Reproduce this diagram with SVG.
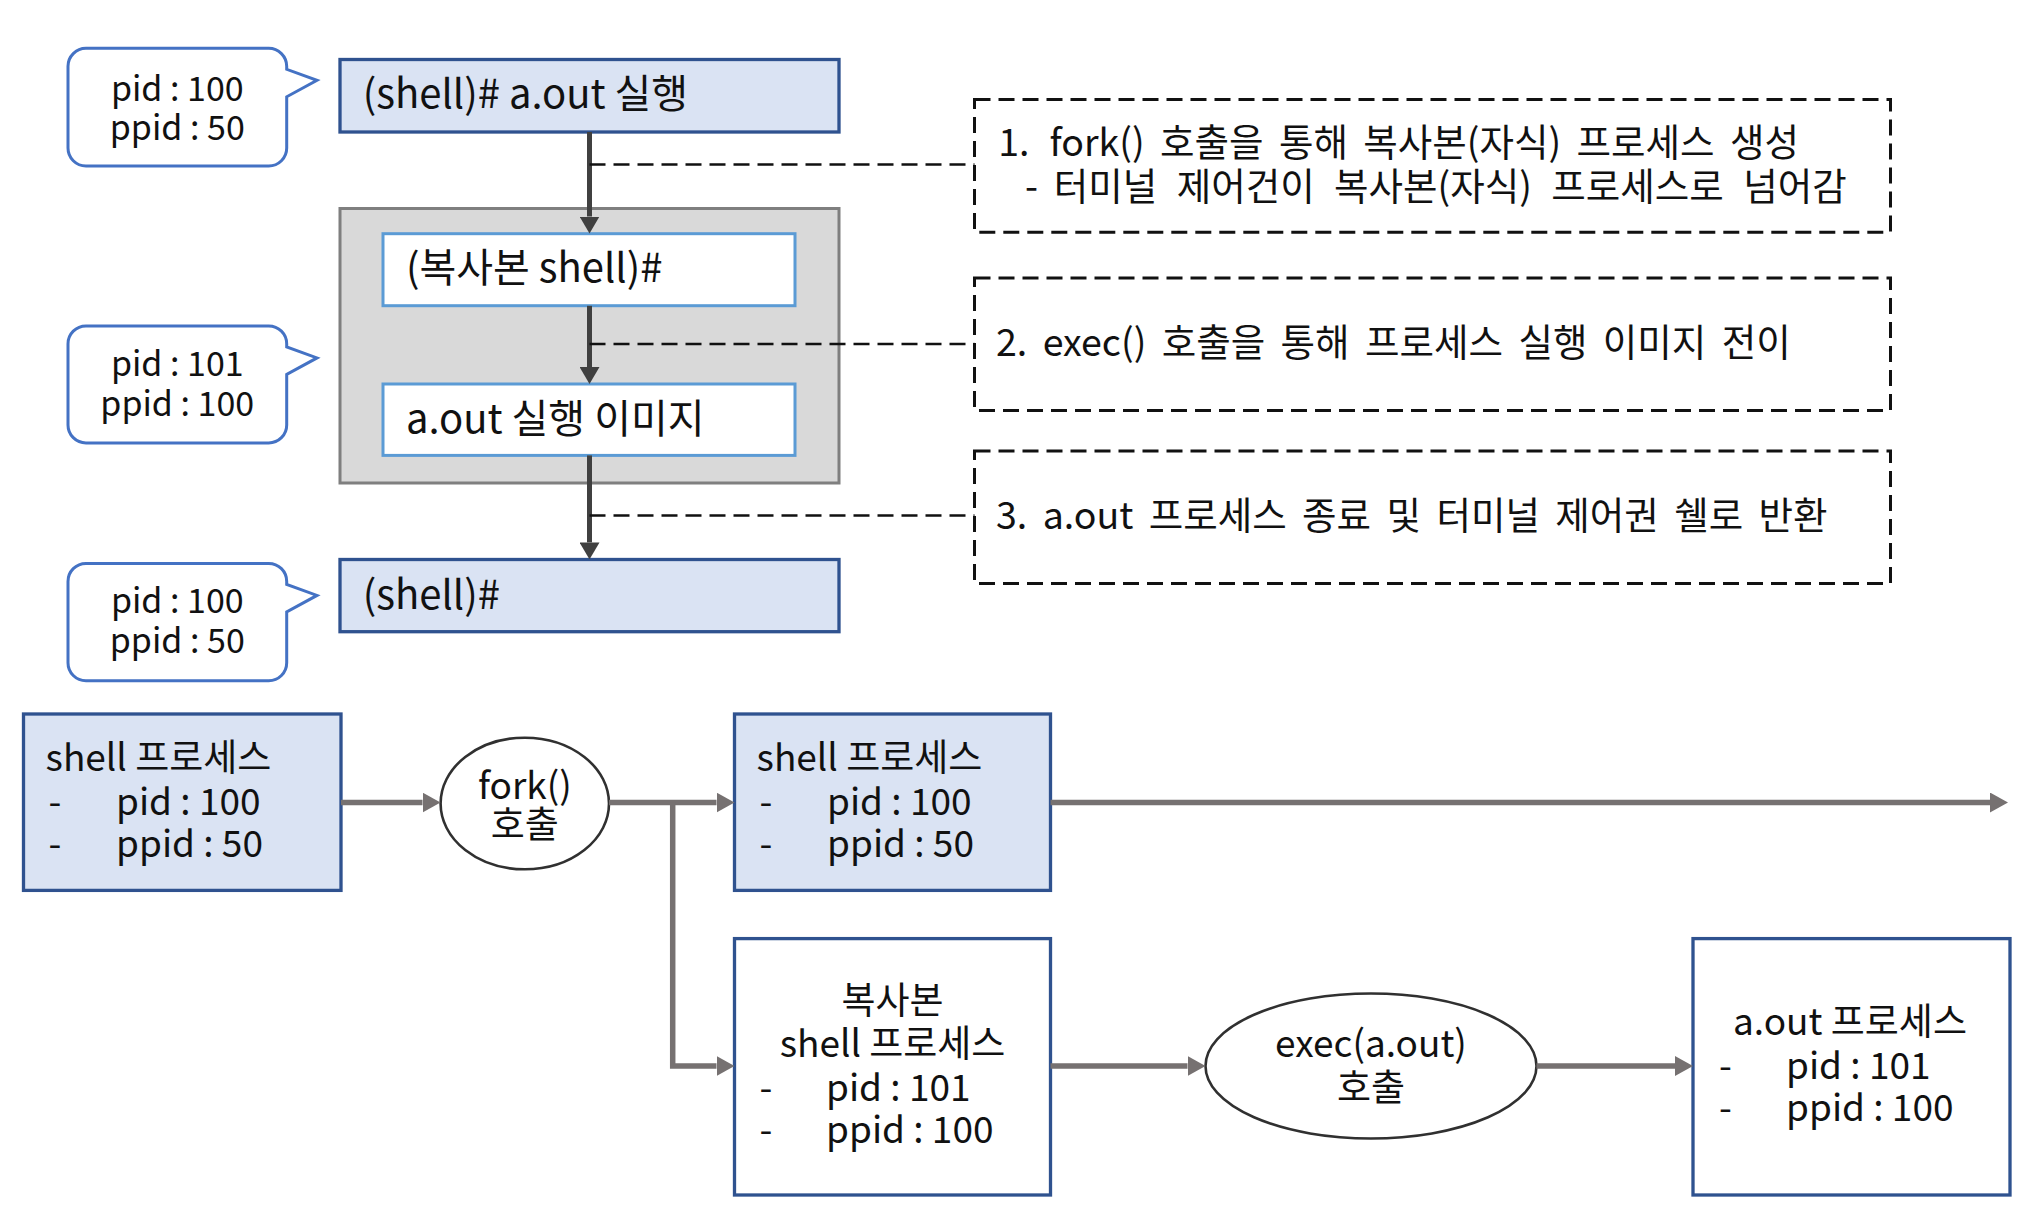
<svg xmlns="http://www.w3.org/2000/svg" width="2032" height="1212" viewBox="0 0 2032 1212">
<style>
text{font-family:"Noto Sans CJK KR","Noto Sans",sans-serif;fill:#111}
.t40{font-size:40px}
.t37{font-size:37px}
.t34{font-size:34px}
.note{font-size:37.5px;word-spacing:7px}
.mid{text-anchor:middle}
.bubble{fill:#fff;stroke:#4472C4;stroke-width:3}
.blue{fill:#DAE3F3;stroke:#2F528F;stroke-width:3.3}
.white{fill:#fff;stroke:#2F528F;stroke-width:3.3}
.inner{fill:#fff;stroke:#5B9BD5;stroke-width:3}
.gray{fill:#D9D9D9;stroke:#7F7F7F;stroke-width:3}
.dbox{fill:none;stroke:#111;stroke-width:3;stroke-dasharray:16 8}
.dline{fill:none;stroke:#111;stroke-width:2.6;stroke-dasharray:16 8}
.dark{fill:none;stroke:#404040;stroke-width:5;marker-end:url(#ahd)}
.garr{fill:none;stroke:#767171;stroke-width:5.5;stroke-linejoin:miter;marker-end:url(#ahg)}
.ell{fill:#fff;stroke:#303030;stroke-width:2.6}
</style>
<defs>
<marker id="ahd" markerUnits="userSpaceOnUse" markerWidth="17" markerHeight="20" refX="0" refY="10" orient="auto"><path d="M0,0 L17,10 L0,20 Z" fill="#404040"/></marker>
<marker id="ahg" markerUnits="userSpaceOnUse" markerWidth="18" markerHeight="20" refX="0" refY="10" orient="auto"><path d="M0,0 L18,10 L0,20 Z" fill="#767171"/></marker>
</defs>

<g id="bubble1">
<path class="bubble" d="M86,48.3 H268.7 A18,18 0 0 1 286.7,66.3 V69.3 L317,80.3 L286.7,96.8 V148 A18,18 0 0 1 268.7,166 H86 A18,18 0 0 1 68,148 V66.3 A18,18 0 0 1 86,48.3 Z"/>
<text class="t34 mid" x="177.3" y="100.5">pid : 100</text>
<text class="t34 mid" x="177.3" y="139.5">ppid : 50</text>
</g>
<g id="bubble2">
<path class="bubble" d="M86,325.9 H268.7 A18,18 0 0 1 286.7,343.9 V346.9 L317,357.9 L286.7,374.4 V424.9 A18,18 0 0 1 268.7,442.9 H86 A18,18 0 0 1 68,424.9 V343.9 A18,18 0 0 1 86,325.9 Z"/>
<text class="t34 mid" x="177.3" y="376">pid : 101</text>
<text class="t34 mid" x="177.3" y="415.5">ppid : 100</text>
</g>
<g id="bubble3">
<path class="bubble" d="M86,563.4 H268.7 A18,18 0 0 1 286.7,581.4 V584.4 L317,595.4 L286.7,611.9 V662.8 A18,18 0 0 1 268.7,680.8 H86 A18,18 0 0 1 68,662.8 V581.4 A18,18 0 0 1 86,563.4 Z"/>
<text class="t34 mid" x="177.3" y="613">pid : 100</text>
<text class="t34 mid" x="177.3" y="652.5">ppid : 50</text>
</g>

<g id="shell-run">
<rect class="blue" x="340" y="59.5" width="499" height="72.5"/>
<text class="t40" x="362.8" y="107.5">(shell)# a.out 실행</text>
</g>
<g id="child-group">
<rect class="gray" x="340" y="208.5" width="499" height="274.5"/>
</g>
<g id="child-shell">
<rect class="inner" x="383" y="233.7" width="412" height="72"/>
<text class="t40" x="405.9" y="281.5">(복사본 shell)#</text>
</g>
<g id="aout-image">
<rect class="inner" x="383" y="384" width="412" height="71.4"/>
<text class="t40" x="405.9" y="432.5">a.out 실행 이미지</text>
</g>
<g id="shell-back">
<rect class="blue" x="340" y="559.5" width="499" height="72.2"/>
<text class="t40" x="362.8" y="608.5">(shell)#</text>
</g>

<g id="note1">
<rect class="dbox" x="974.5" y="99.5" width="916" height="132.8"/>
<text class="note" x="998.3" y="156">1.<tspan x="1049.5">fork() 호출을 통해 복사본(자식) 프로세스 생성</tspan></text>
<text class="note" x="1025" y="199.7">-<tspan x="1053.8" style="word-spacing:11px">터미널 제어건이 복사본(자식) 프로세스로 넘어감</tspan></text>
</g>
<g id="note2">
<rect class="dbox" x="974.5" y="278" width="916" height="132.5"/>
<text class="note" x="996" y="356">2. exec() 호출을 통해 프로세스 실행 이미지 전이</text>
</g>
<g id="note3">
<rect class="dbox" x="974.5" y="451" width="916" height="132.5"/>
<text class="note" x="996" y="529">3. a.out 프로세스 종료 및 터미널 제어권 쉘로 반환</text>
</g>

<g id="procA">
<rect class="blue" x="23.5" y="714" width="317.5" height="176.4"/>
<text class="t37" x="45.6" y="771">shell 프로세스</text>
<text class="t37" x="48.5" y="815">-</text>
<text class="t37" x="116" y="815">pid : 100</text>
<text class="t37" x="48.5" y="857">-</text>
<text class="t37" x="116" y="857">ppid : 50</text>
</g>
<g id="fork-call">
<ellipse class="ell" cx="524.8" cy="803.5" rx="84.2" ry="65.8"/>
<text class="t37 mid" x="524.8" y="799">fork()</text>
<text class="t37 mid" x="524.8" y="838">호출</text>
</g>
<g id="procB">
<rect class="blue" x="734.5" y="714" width="316" height="176.4"/>
<text class="t37" x="756.6" y="770.5">shell 프로세스</text>
<text class="t37" x="759.5" y="814.5">-</text>
<text class="t37" x="827" y="814.5">pid : 100</text>
<text class="t37" x="759.5" y="856.5">-</text>
<text class="t37" x="827" y="856.5">ppid : 50</text>
</g>
<g id="procC">
<rect class="white" x="734.5" y="938.6" width="316" height="256.4"/>
<text class="t37 mid" x="892.5" y="1014">복사본</text>
<text class="t37 mid" x="892.5" y="1056.5">shell 프로세스</text>
<text class="t37" x="759.5" y="1100.5">-</text>
<text class="t37" x="826" y="1100.5">pid : 101</text>
<text class="t37" x="759.5" y="1143">-</text>
<text class="t37" x="826" y="1143">ppid : 100</text>
</g>
<g id="exec-call">
<ellipse class="ell" cx="1371" cy="1066" rx="165.5" ry="72.5"/>
<text class="t37 mid" x="1371" y="1057.3">exec(a.out)</text>
<text class="t37 mid" x="1371" y="1100.7">호출</text>
</g>
<g id="procD">
<rect class="white" x="1693" y="938.6" width="317" height="256.4"/>
<text class="t37 mid" x="1850" y="1034.6">a.out 프로세스</text>
<text class="t37" x="1719" y="1078.5">-</text>
<text class="t37" x="1786" y="1078.5">pid : 101</text>
<text class="t37" x="1719" y="1121">-</text>
<text class="t37" x="1786" y="1121">ppid : 100</text>
</g>

<g id="connectors">
<line class="dark" x1="589.5" y1="132" x2="589.5" y2="216.5"/>
<line class="dark" x1="589.5" y1="305.8" x2="589.5" y2="367"/>
<line class="dark" x1="589.5" y1="455.4" x2="589.5" y2="542.4"/>
<line class="dline" x1="589.5" y1="164.5" x2="974.5" y2="164.5"/>
<line class="dline" x1="589.5" y1="344" x2="974.5" y2="344"/>
<line class="dline" x1="589.5" y1="515.5" x2="974.5" y2="515.5"/>
<line class="garr" x1="341" y1="802.5" x2="422.5" y2="802.5"/>
<line class="garr" x1="609" y1="802.5" x2="716.5" y2="802.5"/>
<polyline class="garr" points="672.7,802.5 672.7,1066 716.5,1066"/>
<line class="garr" x1="1050.5" y1="802.5" x2="1990" y2="802.5"/>
<line class="garr" x1="1050.5" y1="1066" x2="1187.5" y2="1066"/>
<line class="garr" x1="1536.5" y1="1066" x2="1675" y2="1066"/>
</g>
</svg>
